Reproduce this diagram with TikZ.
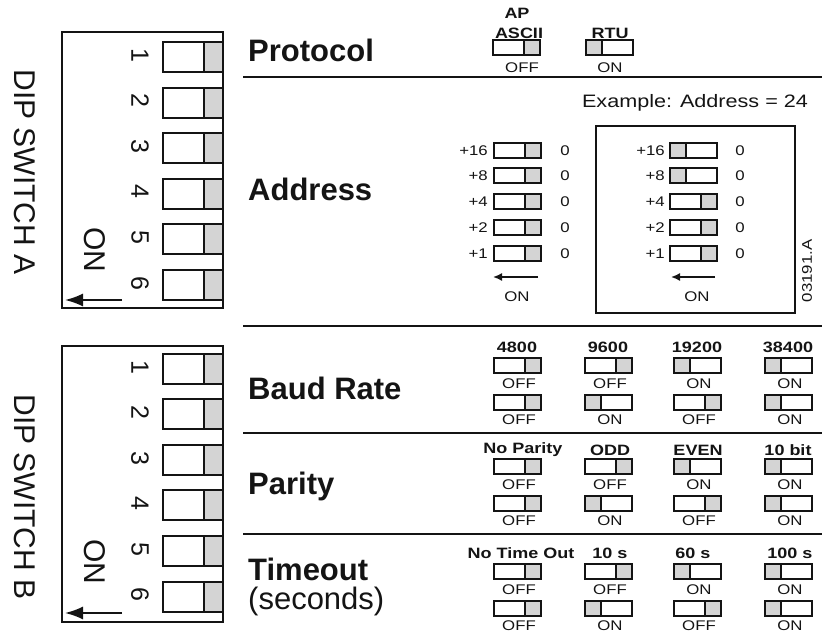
\documentclass[tikz,border=0pt]{standalone}
\usepackage{fontspec}
\setmainfont{Liberation Sans}
\newfontfamily\widefam[FakeStretch=1.2]{Liberation Sans}
\usetikzlibrary{arrows.meta}
\definecolor{swgrey}{RGB}{212,212,212}
\definecolor{ink}{RGB}{20,20,20}
\tikzset{
  big/.style={font={\fontsize{31}{31}\selectfont\bfseries}, inner sep=0pt, text=ink},
  secs/.style={font={\fontsize{31}{31}\selectfont}, inner sep=0pt, text=ink},
  diptxt/.style={font={\fontsize{30}{30}\selectfont}, inner sep=0pt, rotate=-90, text=ink},
  dipnum/.style={font={\fontsize{25}{25}\selectfont}, inner sep=0pt, rotate=-90, text=ink},
  hdr/.style={font={\widefam\fontsize{15}{15}\selectfont\bfseries}, inner sep=0pt, text=ink},
  st/.style={font={\widefam\fontsize{14}{14}\selectfont}, inner sep=0pt, text=ink},
  ex/.style={font={\widefam\fontsize{18}{18}\selectfont}, inner sep=0pt, text=ink},
  sepline/.style={line width=2.2pt, draw=ink},
  frame/.style={line width=2pt, draw=ink},
  swl/.style={line width=2pt, draw=ink},
  bigarr/.style={line width=1.8pt, draw=ink, -{Latex[length=18pt,width=13pt]}},
  smallarr/.style={line width=1.6pt, draw=ink, -{Latex[length=9pt,width=8pt]}},
  pics/dsw/.style={code={
    \draw[swl,fill=white] (-23.5,-7.5) rectangle (23.5,7.5);
    \draw[swl,fill=swgrey] (#1,-7.5) rectangle (#1+16,7.5);}},
  pics/bigsw/.style={code={
    \draw[swl,fill=white] (-30,-15) rectangle (30,15);
    \draw[swl,fill=swgrey] (11,-15) rectangle (30,15);}},
}
\begin{document}
\begin{tikzpicture}[x=1pt,y=-1pt]
\useasboundingbox (0,0) rectangle (823,636);

% ---------- DIP switch A ----------
\draw[frame] (62,32) rectangle (223,308);
\foreach \i in {1,...,6} {
  \pic (swA\i) at (193,{57+45.6*(\i-1)}) {bigsw};
  \node[dipnum] (nA\i) at (140,{55+45.6*(\i-1)}) {\i};
}
\node[diptxt] (dipA) at (25,172) {DIP SWITCH A};
\node[diptxt] (onA) at (95,250) {ON};
\coordinate (aAs) at (122,300);
\coordinate (aAe) at (65,300);
\draw[bigarr] (aAs) -- (aAe);

% ---------- DIP switch B ----------
\draw[frame] (62,346) rectangle (223,622);
\foreach \i in {1,...,6} {
  \pic (swB\i) at (193,{369+45.5*(\i-1)}) {bigsw};
  \node[dipnum] (nB\i) at (140,{367+45.5*(\i-1)}) {\i};
}
\node[diptxt] (dipB) at (25,497) {DIP SWITCH B};
\node[diptxt] (onB) at (95,562) {ON};
\coordinate (aBs) at (122,613);
\coordinate (aBe) at (65,613);
\draw[bigarr] (aBs) -- (aBe);

% ---------- separators ----------
\coordinate (s1a) at (243,77);  \coordinate (s1b) at (822,77);
\coordinate (s2a) at (243,326); \coordinate (s2b) at (822,326);
\coordinate (s3a) at (243,433); \coordinate (s3b) at (822,433);
\coordinate (s4a) at (243,534); \coordinate (s4b) at (822,534);
\draw[sepline] (s1a) -- (s1b);
\draw[sepline] (s2a) -- (s2b);
\draw[sepline] (s3a) -- (s3b);
\draw[sepline] (s4a) -- (s4b);

% ---------- section labels ----------
\node[big, anchor=base west] (lProt) at (248,62) {Protocol};
\node[big, anchor=base west] (lAddr) at (248,201) {Address};
\node[big, anchor=base west] (lBaud) at (248,400) {Baud Rate};
\node[big, anchor=base west] (lPar) at (248,495) {Parity};
\node[big, anchor=base west] (lTime) at (248,580) {Timeout};
\node[secs, anchor=base west] (lSecs) at (248,609) {(seconds)};

% ---------- Protocol ----------
\node[hdr] (hAP) at (517,13) {AP};
\node[hdr] (hASCII) at (519,33) {ASCII};
\node[hdr] (hRTU) at (610,33) {RTU};
\pic (pAscii) at (516,47.5) {dsw=7.5};
\pic (pRtu) at (609,47.5) {dsw=-23.5};
\node[st] (tAscii) at (522,68) {OFF};
\node[st] (tRtu) at (610,68) {ON};

% ---------- Address ----------
\node[ex] (exlab) at (695,103) {Example: Address = 24};
\draw[frame, line width=1.8pt] (596,126) rectangle (795,313);
\foreach \v/\yy/\g [count=\k] in {+16/151/-23.5, +8/176/-23.5, +4/202/7.5, +2/228/7.5, +1/254/7.5} {
  \node[st, anchor=east] (aL\k) at (488,\yy) {\v};
  \pic (adL\k) at (517,\yy) {dsw=7.5};
  \node[st] (aLz\k) at (565,\yy) {0};
  \node[st, anchor=east] (aR\k) at (665,\yy) {\v};
  \pic (adR\k) at (693.5,\yy) {dsw=\g};
  \node[st] (aRz\k) at (740,\yy) {0};
}
\coordinate (adLs) at (538,277); \coordinate (adLe) at (493,277);
\coordinate (adRs) at (715,277); \coordinate (adRe) at (671,277);
\draw[smallarr] (adLs) -- (adLe);
\draw[smallarr] (adRs) -- (adRe);
\node[st] (adLon) at (517,297) {ON};
\node[st] (adRon) at (697,297) {ON};
\node[st, rotate=90] (code) at (807,271) {03191.A};

% ---------- Baud / Parity / Timeout headers ----------
\node[hdr] (b1) at (517,347) {4800};
\node[hdr] (b2) at (608,347) {9600};
\node[hdr] (b3) at (697,347) {19200};
\node[hdr] (b4) at (788,347) {38400};
\node[hdr] (p1) at (523,450) {No Parity};
\node[hdr] (p2) at (610,450) {ODD};
\node[hdr] (p3) at (698,450) {EVEN};
\node[hdr] (p4) at (788,450) {10 bit};
\node[hdr] (t1) at (521,553) {No Time Out};
\node[hdr] (t2) at (610,553) {10 s};
\node[hdr] (t3) at (693,553) {60 s};
\node[hdr] (t4) at (790,553) {100 s};

\foreach \sec/\ya in {B/365.5, P/467, T/571.5} {
  \foreach \x/\ga/\ta/\gb/\tb [count=\k] in {517/7.5/OFF/7.5/OFF, 608/7.5/OFF/-23.5/ON, 697/-23.5/ON/7.5/OFF, 788/-23.5/ON/-23.5/ON} {
    \pic (\sec-sa\k) at (\x,\ya) {dsw=\ga};
    \node[st] (\sec-ta\k) at (\x+2,\ya+18) {\ta};
    \pic (\sec-sb\k) at (\x,\ya+37) {dsw=\gb};
    \node[st] (\sec-tb\k) at (\x+2,\ya+54) {\tb};
  }
}
\end{tikzpicture}
\end{document}
